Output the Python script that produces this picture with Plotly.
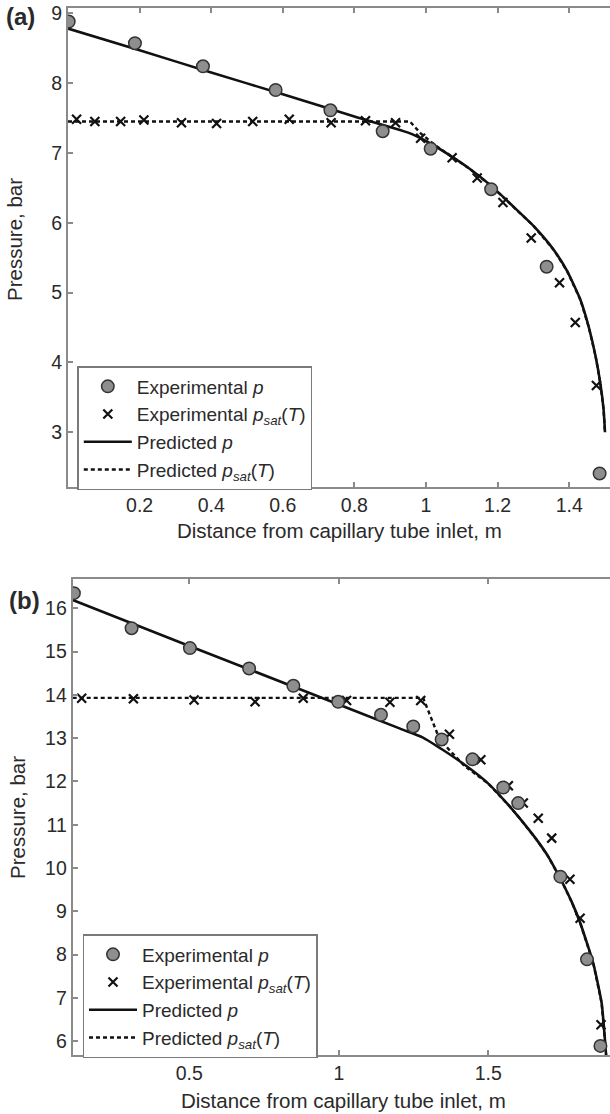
import plotly.graph_objects as go

# ---------------- Panel (a) data ----------------
a_exp_p_x = [0.002, 0.187, 0.377, 0.58, 0.733, 0.879, 1.013, 1.182, 1.337, 1.485]
a_exp_p_y = [8.88, 8.57, 8.24, 7.90, 7.61, 7.31, 7.06, 6.48, 5.37, 2.41]

a_exp_psat_x = [0.024, 0.075, 0.147, 0.212, 0.317, 0.415, 0.516, 0.618, 0.735, 0.831,
                0.915, 0.985, 1.073, 1.143, 1.215, 1.294, 1.373, 1.417, 1.476, 1.485]
a_exp_psat_y = [7.48, 7.45, 7.45, 7.47, 7.43, 7.42, 7.45, 7.48, 7.43, 7.46,
                7.43, 7.21, 6.93, 6.64, 6.29, 5.78, 5.14, 4.57, 3.67, 2.41]

a_pred_p_x = [0.0, 0.2, 0.4, 0.6, 0.8, 0.95, 1.0, 1.059, 1.12, 1.184, 1.24, 1.301,
              1.357, 1.394, 1.431, 1.455, 1.474, 1.487, 1.496, 1.5]
a_pred_p_y = [8.78, 8.47, 8.15, 7.84, 7.52, 7.29, 7.17, 6.99, 6.78, 6.52, 6.25, 5.95,
              5.61, 5.31, 4.90, 4.50, 4.08, 3.70, 3.33, 3.0]

a_pred_psat_x = [0.0, 0.955, 0.985, 1.026, 1.059, 1.12, 1.184, 1.24, 1.301,
                 1.357, 1.394, 1.431, 1.455, 1.474, 1.487, 1.496, 1.5]
a_pred_psat_y = [7.45, 7.45, 7.28, 7.11, 6.99, 6.78, 6.52, 6.25, 5.95,
                 5.61, 5.31, 4.90, 4.50, 4.08, 3.70, 3.33, 3.0]

a_xticks = [0.2, 0.4, 0.6, 0.8, 1.0, 1.2, 1.4]
a_xticklabels = ["0.2", "0.4", "0.6", "0.8", "1", "1.2", "1.4"]
a_yticks = [3, 4, 5, 6, 7, 8, 9]

# ---------------- Panel (b) data ----------------
b_exp_p_x = [0.114, 0.307, 0.502, 0.70, 0.848, 0.998, 1.141, 1.249, 1.344, 1.447,
             1.55, 1.60, 1.741, 1.830, 1.875]
b_exp_p_y = [16.35, 15.54, 15.08, 14.61, 14.21, 13.84, 13.54, 13.27, 12.97, 12.51,
             11.86, 11.50, 9.80, 7.89, 5.89]

b_exp_psat_x = [0.140, 0.313, 0.516, 0.72, 0.881, 1.026, 1.171, 1.274, 1.37, 1.475,
                1.567, 1.617, 1.667, 1.712, 1.773, 1.807, 1.877]
b_exp_psat_y = [13.92, 13.91, 13.88, 13.84, 13.92, 13.87, 13.83, 13.87, 13.09, 12.50,
                11.90, 11.50, 11.15, 10.69, 9.74, 8.84, 6.38]

b_pred_p_x = [0.11, 0.5, 0.9, 1.205, 1.28, 1.35, 1.428, 1.50, 1.572, 1.606, 1.662,
              1.70, 1.745, 1.78, 1.807, 1.851, 1.879, 1.894]
b_pred_p_y = [16.19, 15.13, 14.05, 13.22, 13.02, 12.72, 12.35, 11.95, 11.42, 11.14, 10.65,
              10.27, 9.70, 9.20, 8.74, 7.80, 6.88, 5.68]

b_pred_psat_x = [0.11, 1.282, 1.338, 1.42, 1.50, 1.572, 1.606, 1.662,
                 1.70, 1.745, 1.78, 1.807, 1.851, 1.879, 1.894]
b_pred_psat_y = [13.93, 13.93, 12.96, 12.36, 11.95, 11.42, 11.14, 10.65,
                 10.27, 9.70, 9.20, 8.74, 7.80, 6.88, 5.68]

b_xticks = [0.5, 1.0, 1.5]
b_xticklabels = ["0.5", "1", "1.5"]
b_yticks = [6, 7, 8, 9, 10, 11, 12, 13, 14, 15, 16]

# ---------------- Styling ----------------
W, H = 610, 1114
FONT = "Liberation Sans, Arial, sans-serif"
TXT = "#2a2a2a"
AX = "#8a8a8a"

names = ["Experimental <i>p</i>",
         "Experimental <i>p<sub>sat</sub></i>(<i>T</i>)",
         "Predicted <i>p</i>",
         "Predicted <i>p<sub>sat</sub></i>(<i>T</i>)"]

fig = go.Figure()


def add_panel(xa, ya, leg, pp_x, pp_y, ps_x, ps_y, ep_x, ep_y, es_x, es_y):
    fig.add_trace(go.Scatter(x=pp_x, y=pp_y, mode="lines", name=names[2],
                             line=dict(color="#111111", width=2.6, shape="spline",
                                       smoothing=0.5),
                             xaxis=xa, yaxis=ya, legend=leg, legendrank=3))
    fig.add_trace(go.Scatter(x=ps_x, y=ps_y, mode="lines", name=names[3],
                             line=dict(color="#111111", width=2.4, dash="4px,3px"),
                             xaxis=xa, yaxis=ya, legend=leg, legendrank=4))
    fig.add_trace(go.Scatter(x=es_x, y=es_y, mode="markers", name=names[1],
                             marker=dict(symbol="x-thin", size=9,
                                         line=dict(color="#111111", width=2.2)),
                             xaxis=xa, yaxis=ya, legend=leg, legendrank=2))
    fig.add_trace(go.Scatter(x=ep_x, y=ep_y, mode="markers", name=names[0],
                             marker=dict(symbol="circle", size=12.5, color="#8e8e8e",
                                         line=dict(color="#333333", width=1.5)),
                             xaxis=xa, yaxis=ya, legend=leg, legendrank=1))


add_panel("x", "y", "legend", a_pred_p_x, a_pred_p_y, a_pred_psat_x, a_pred_psat_y,
          a_exp_p_x, a_exp_p_y, a_exp_psat_x, a_exp_psat_y)
add_panel("x2", "y2", "legend2", b_pred_p_x, b_pred_p_y, b_pred_psat_x, b_pred_psat_y,
          b_exp_p_x, b_exp_p_y, b_exp_psat_x, b_exp_psat_y)

axis_common = dict(showgrid=False, zeroline=False, showline=True, linecolor=AX,
                   linewidth=2, ticks="inside", ticklen=5, tickwidth=1.5,
                   tickcolor=AX, tickfont=dict(family=FONT, size=19.5, color=TXT),
                   automargin=False)

legend_common = dict(xanchor="left", yanchor="top", bgcolor="white",
                     bordercolor="#7a7a7a", borderwidth=1.5,
                     font=dict(family=FONT, size=19, color=TXT),
                     tracegroupgap=0, itemwidth=48, traceorder="normal")

fig.update_layout(
    width=W, height=H,
    margin=dict(l=0, r=0, t=0, b=0),
    paper_bgcolor="white", plot_bgcolor="white",
    showlegend=True,
    xaxis=dict(axis_common, domain=[68 / W, 1.0], range=[0.0, 1.514],
               tickvals=a_xticks, ticktext=a_xticklabels, mirror="ticks", anchor="y"),
    yaxis=dict(axis_common, domain=[1 - 486.7 / H, 1 - 8.3 / H], range=[2.22, 9.07],
               tickvals=a_yticks, anchor="x"),
    xaxis2=dict(axis_common, domain=[72.7 / W, 1.0], range=[0.11, 1.907],
                tickvals=b_xticks, ticktext=b_xticklabels, mirror="ticks", anchor="y2"),
    yaxis2=dict(axis_common, domain=[1 - 1055 / H, 1 - 579.3 / H], range=[5.68, 16.67],
                tickvals=b_yticks, anchor="x2"),
    legend=dict(legend_common, x=77.3 / W, y=1 - 366 / H),
    legend2=dict(legend_common, x=82.5 / W, y=1 - 934 / H),
)

annots = [
    dict(text="<b>(a)</b>", x=20 / W, y=1 - 17 / H, size=24),
    dict(text="<b>(b)</b>", x=24 / W, y=1 - 600 / H, size=24),
    dict(text="Distance from capillary tube inlet, m", x=340 / W, y=1 - 530 / H, size=20.5),
    dict(text="Distance from capillary tube inlet, m", x=343 / W, y=1 - 1100 / H, size=20.5),
]
for a in annots:
    fig.add_annotation(text=a["text"], x=a["x"], y=a["y"], xref="paper", yref="paper",
                       showarrow=False, xanchor="center", yanchor="middle",
                       font=dict(family=FONT, size=a["size"], color=TXT))
for (xc, yc) in [(14, 240), (17, 818)]:
    fig.add_annotation(text="Pressure, bar", x=xc / W, y=1 - yc / H, xref="paper",
                       yref="paper", showarrow=False, textangle=-90,
                       xanchor="center", yanchor="middle",
                       font=dict(family=FONT, size=20.5, color=TXT))

fig.write_html("out.html")
